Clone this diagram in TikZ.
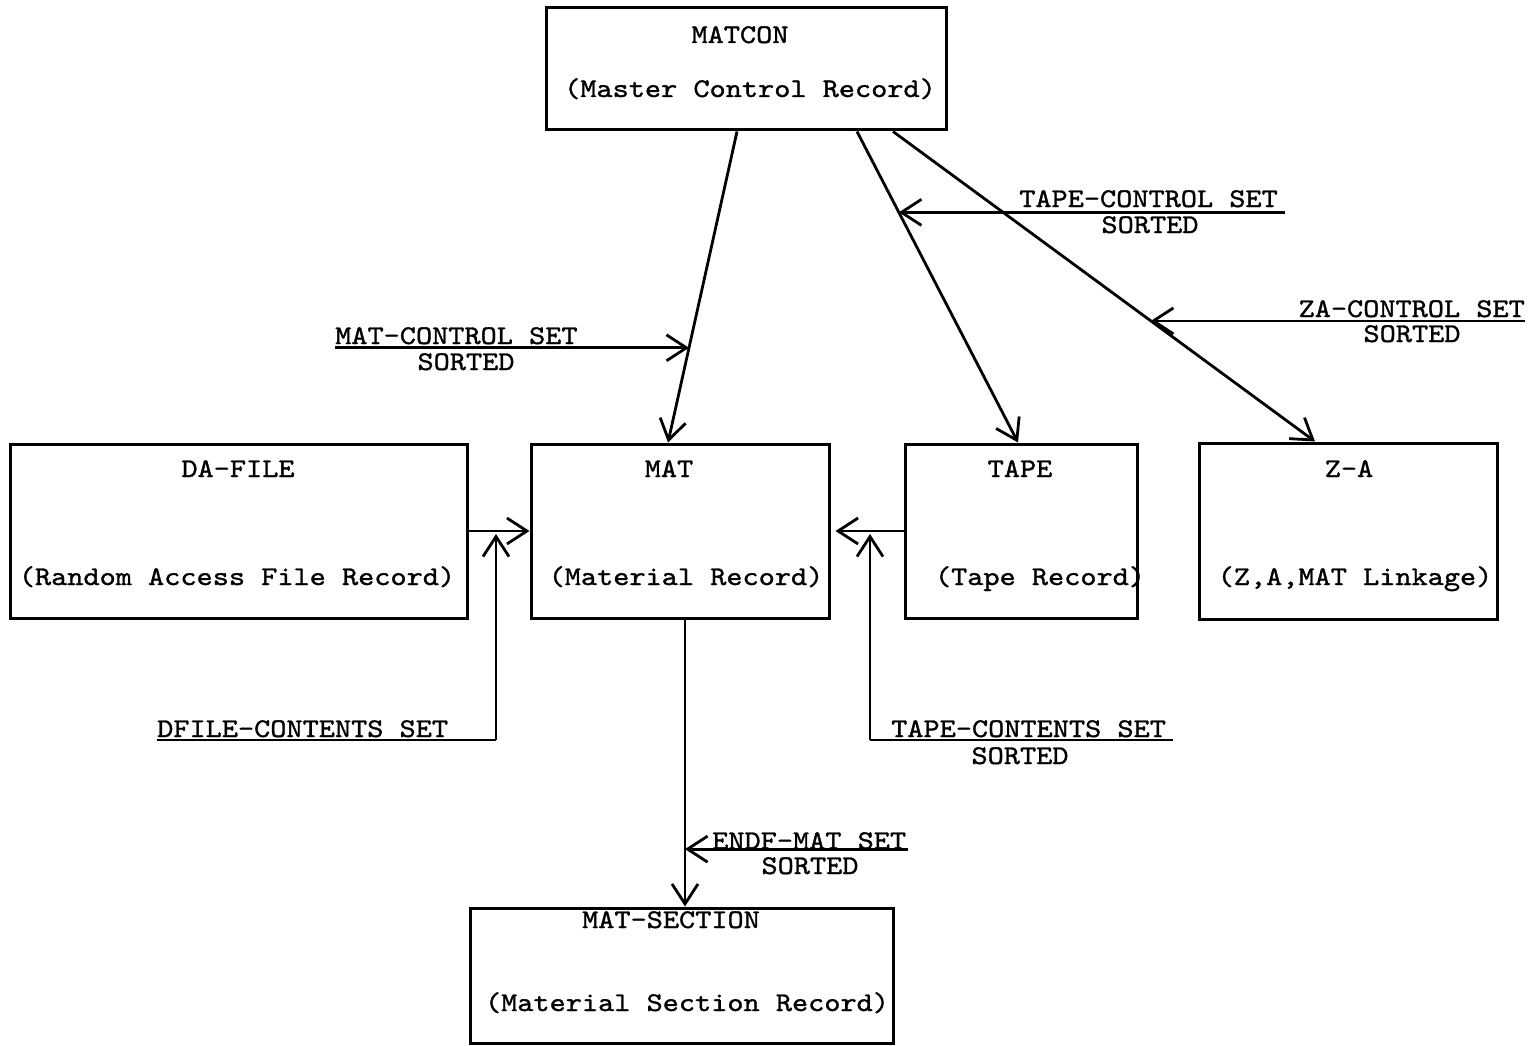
\documentclass[tikz,border=0pt]{standalone}
\usepackage{fontspec}
\usetikzlibrary{arrows.meta,calc}
\newfontfamily\typer[FakeStretch=1.14,FakeBold=1.2]{lmmono10-regular.otf}
\begin{document}
\begin{tikzpicture}[x=1pt,y=-1pt,
  box/.style={draw,line width=3pt,inner sep=0pt,minimum width=#1},
  txt/.style={font=\typer\fontsize{27}{30}\selectfont,inner sep=0pt,anchor=base},
  link/.style={line width=2.8pt,-{Straight Barb[length=20pt,width=26pt,line width=2.8pt]}},
  rule/.style={line width=2.8pt}]
\useasboundingbox (0,0) rectangle (1536,1046);

% record boxes
\node[box=400pt,minimum height=122pt] (matcon) at (746,69) {};
\node[box=457pt,minimum height=174pt] (dafile) at (238.5,531) {};
\node[box=298pt,minimum height=174pt] (mat)    at (680,531) {};
\node[box=232pt,minimum height=174pt] (tape)   at (1021,531) {};
\node[box=298pt,minimum height=176pt] (za)     at (1348,531) {};
\node[box=423pt,minimum height=135pt] (matsec) at (681.5,975.5) {};

% box captions
\node[txt] (tmatcon) at (740,43) {MATCON};
\node[txt] (smatcon) at (750,97) {(Master Control Record)};
\node[txt] (tdafile) at (238,477) {DA-FILE};
\node[txt] (sdafile) at (237,585) {(Random Access File Record)};
\node[txt] (tmat)    at (669,477) {MAT};
\node[txt] (smat)    at (686,585) {(Material Record)};
\node[txt] (ttape)   at (1020,477) {TAPE};
\node[txt] (stape)   at (1040,585) {(Tape Record)};
\node[txt] (tza)     at (1349,477) {Z-A};
\node[txt] (sza)     at (1355,585) {(Z,A,MAT Linkage)};
\node[txt] (tmatsec) at (671,928) {MAT-SECTION};
\node[txt] (smatsec) at (687,1011) {(Material Section Record)};

% x positions of the connector ends
\coordinate (a1) at (737,0);  \coordinate (b1) at (668,0);
\coordinate (a2) at (857,0);  \coordinate (b2) at (1018,0);
\coordinate (a3) at (893,0);  \coordinate (b3) at (1315,0);
\coordinate (mx) at (685,0);

% owner-to-member links from MATCON
\draw[link] (matcon.south -| a1) -- coordinate[pos=0.6955] (p1) (mat.north -| b1);
\draw[link] (matcon.south -| a2) -- coordinate[pos=0.26] (p2) (tape.north -| b2);
\draw[link] (matcon.south -| a3) -- coordinate[pos=0.611] (p3) (za.north -| b3);

% set labels pointing at those links
\coordinate (l1) at (335,0);
\draw[link] (l1 |- p1) -- (p1);
\node[txt,anchor=base west] (n1) at (335,344) {MAT-CONTROL SET};
\node[txt] (n1s) at (466,370) {SORTED};

\coordinate (l2) at (1285,0);
\draw[link] (l2 |- p2) -- (p2);
\node[txt,anchor=base east] (n2) at (1278,207) {TAPE-CONTROL SET};
\node[txt] (n2s) at (1150,233) {SORTED};

\coordinate (l3) at (1525,0);
\draw[link] (l3 |- p3) -- (p3);
\node[txt,anchor=base east] (n3) at (1525,317) {ZA-CONTROL SET};
\node[txt] (n3s) at (1412,342) {SORTED};

% side links into MAT
\draw[link] (dafile.east) -- (mat.west);
\draw[link,shorten >=5pt] (tape.west) -- (mat.east);

\coordinate (d0) at (157,740); \coordinate (d1) at (496,740); \coordinate (d2) at (496,534);
\draw[rule] (d0) -- (d1);
\draw[link] (d1) -- (d2);
\node[txt,anchor=base west] (n4) at (157,737) {DFILE-CONTENTS SET};

\coordinate (e0) at (1173,740); \coordinate (e1) at (870,740); \coordinate (e2) at (870,534);
\draw[rule] (e0) -- (e1);
\draw[link] (e1) -- (e2);
\node[txt,anchor=base west] (n5) at (891,737) {TAPE-CONTENTS SET};
\node[txt] (n5s) at (1020,764) {SORTED};

% MAT down to MAT-SECTION
\draw[link] (mat.south -| mx) -- coordinate[pos=0.8] (p4) (matsec.north -| mx);
\coordinate (l6) at (908,0);
\draw[link] (l6 |- p4) -- (p4);
\node[txt,anchor=base west] (n6) at (712,849) {ENDF-MAT SET};
\node[txt] (n6s) at (810,874) {SORTED};
\end{tikzpicture}
\end{document}
